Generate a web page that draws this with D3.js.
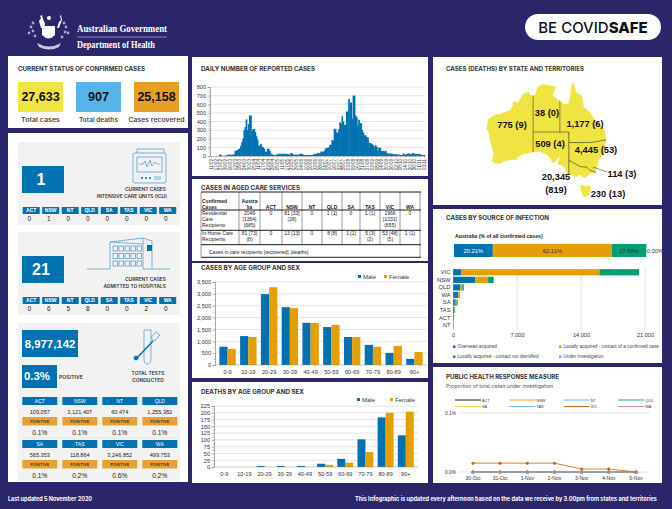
<!DOCTYPE html>
<html>
<head>
<meta charset="utf-8">
<script src="https://cdnjs.cloudflare.com/ajax/libs/d3/7.8.5/d3.min.js"></script>
<style>
html, body { margin: 0; padding: 0; background: #2a2669; }
svg { display: block; }
.axis text { font-family: "Liberation Sans", Arial, sans-serif; fill: #333; }
</style>
</head>
<body>
<div id="chart"></div>
<script>
// top counters
const statusLabels = ['Total cases', 'Total deaths', 'Cases recovered'];
const statusValues = ['27,633', '907', '25,158'];

// state lists
const states = ['ACT', 'NSW', 'NT', 'QLD', 'SA', 'TAS', 'VIC', 'WA'];
const icuValues = [0, 1, 0, 0, 0, 0, 0, 0];
const hospitalValues = [0, 6, 5, 8, 0, 0, 2, 0];
const testValues = ['109,057', '3,121,407', '60,474', '1,255,382', '565,353', '118,864', '3,246,852', '499,753'];
const testPositive = ['0.1%', '0.1%', '0.1%', '0.1%', '0.1%', '0.2%', '0.6%', '0.2%'];

// daily reported cases
const dailyCases = [0,0,0,0,0,0,0,0,15,15,2,2,2,2,10,12,15,15,15,15,15,18,60,60,70,80,85,120,160,200,300,335,425,300,370,470,470,
  290,310,315,280,230,190,120,120,140,110,100,85,50,50,85,85,60,30,20,15,10,10,20,15,25,25,25,25,25,25,25,20,25,20,15,35,30,15,15,15,
  15,15,15,25,25,25,15,12,12,12,12,12,12,12,12,15,25,25,25,35,30,30,50,50,50,60,85,95,90,100,130,130,185,175,315,315,270,270,310,390,375,
  460,400,360,360,515,515,660,620,620,430,700,700,470,450,350,420,380,380,300,270,240,240,220,215,155,150,145,135,120,100,125,105,60,95,95,
  60,55,60,50,60,35,30,28,28,25,25,20,20,20,18,15,15,12,12,12,30,18,15,25,25,30,20,20,35,30,25,25,25,20,25,18,15,12,12,10];
const dailyTickLabels = ['11/02','17/02','23/02','29/02','06/03','12/03','18/03','24/03','30/03','05/04','11/04','17/04','23/04','29/04','05/05','11/05','17/05','23/05','29/05','04/06','10/06','16/06','22/06','28/06','04/07','10/07','16/07','22/07','28/07','03/08','09/08','15/08','21/08','27/08','02/09','08/09','14/09','20/09','26/09','02/10','08/10','14/10','20/10','26/10','01/11','03/11'];

// aged care table
const agedHead = ['Confirmed\nCases', 'Austra\nlia', 'ACT', 'NSW', 'NT', 'QLD', 'SA', 'TAS', 'VIC', 'WA'];
const agedResidential = ['Residential\nCare\nRecipients', '2049\n[1364]\n(685)', '0', '81 [33]\n(28)', '0', '1 (1)', '0', '1 (1)', '1966\n[1331]\n(655)', '0'];
const agedHome = ['In Home Care\nRecipients', '81 [73]\n(8)', '0', '13 [13]', '0', '8 [8]', '1 [1]', '5 [3]\n(2)', '53 [48]\n(5)', '1 (1)'];

// age groups
const ageGroups = ['0-9', '10-19', '20-29', '30-39', '40-49', '50-59', '60-69', '70-79', '80-89', '90+'];
const casesMale = [770, 1220, 2990, 2440, 1780, 1600, 1180, 850, 510, 260];
const casesFemale = [680, 1180, 3280, 2400, 1770, 1690, 1180, 770, 800, 550];
const deathsMale = [0, 0, 4, 4, 4, 12, 30, 102, 183, 117];
const deathsFemale = [0, 0, 0, 0, 0, 8, 16, 55, 200, 204];

// source of infection
const sourceNames = ['Overseas acquired', 'Locally acquired - contact of a confirmed case', 'Locally acquired - contact not identified', 'Under investigation'];
const sourceShares = [20.21, 62.11, 17.68, 0.00];
const sourceStates = ['VIC', 'NSW', 'QLD', 'WA', 'SA', 'TAS', 'ACT', 'NT'];
const sourceOverseas = [912, 2440, 800, 580, 290, 170, 80, 32];
const sourceContact = [15100, 1400, 220, 190, 130, 40, 20, 4];
const sourceUnknown = [4333, 605, 157, 5, 89, 20, 14, 2];
const sourceInvestigation = [0, 0, 0, 0, 0, 0, 0, 0];

// under investigation lines
const phrmDays = ['30-Oct', '31-Oct', '1-Nov', '2-Nov', '3-Nov', '4-Nov', '5-Nov'];
const phrmStates = ['ACT', 'NSW', 'NT', 'QLD', 'SA', 'TAS', 'VIC', 'WA'];
const phrmColors = ['#000000', '#e69f00', '#56b4e9', '#009e73', '#f0e442', '#56b4e9', '#d55e00', '#cc79a7'];
const phrmFlat = [0, 0, 0, 0, 0, 0, 0];
const phrmVic = [0.015, 0.015, 0.015, 0.015, 0.005, 0.005, 0];

// map text and outlines in lon/lat
const mapLabels = ['775 (9)', '38 (0)', '1,177 (6)', '509 (4)', '4,445 (53)', '20,345', '(819)', '114 (3)', '230 (13)'];
const outlineWA = [[129,-14.9],[128.2,-15],[127.5,-14],[126.8,-14],[125.8,-14.4],[125,-15.5],[124.4,-16.3],[123.6,-17.3],[122.9,-16.5],[122.2,-17.2],[122.2,-18],[121.2,-19.5],[119.5,-20],[117.5,-20.7],[116.5,-20.7],[115,-21.5],[114.2,-22],[113.7,-23],[113.5,-25],[114.2,-26.5],[114.6,-28.5],[115,-30],[115.7,-31.8],[115.7,-33],[115.1,-34.2],[116.5,-35],[118,-35],[119.5,-34.2],[121.8,-33.9],[123.5,-33.9],[124,-33],[126,-32.3],[129,-31.7]];
const outlineSA = [[129,-26],[141,-26],[141,-38.05],[140.4,-37.8],[139.6,-36.2],[138.5,-35.4],[137.2,-35.2],[137.8,-33.8],[137.8,-32.6],[137,-33.8],[135.9,-34.9],[135.2,-34.2],[134,-32.6],[132.5,-32],[131,-31.5],[129,-31.7]];
const outlineNT = [[129,-14.9],[129.6,-14.9],[130.5,-12.5],[131,-12.1],[132.5,-11.4],[135,-12.1],[136.8,-12.2],[136,-13.5],[135.5,-15],[137,-16],[138,-16.6],[138,-26],[129,-26]];
const outlineQLD = [[138,-16.6],[139.3,-17.5],[140.8,-17.5],[141.6,-15],[141.7,-13],[142.5,-10.8],[143.5,-14],[145.3,-15],[146,-18.5],[148,-20],[149.5,-22],[151,-23.5],[153,-25.2],[153.5,-28.2],[150,-28.8],[148,-29],[141,-29],[141,-26],[138,-26]];
const outlineNSW = [[141,-29],[148,-29],[150,-28.8],[153.5,-28.2],[153.2,-30.5],[152.5,-32.5],[151,-34],[150,-37.5],[148,-36.8],[147,-36],[145,-35.9],[143,-35],[141,-34]];
const outlineVIC = [[141,-34],[143,-35],[145,-35.9],[147,-36],[148,-36.8],[150,-37.5],[148,-38],[146.4,-39.1],[145,-38.4],[144.6,-38],[143.5,-38.8],[141,-38.05]];
const outlineTAS = [[144.7,-40.7],[146.5,-41.1],[148.3,-40.9],[148.2,-42.2],[147.5,-43.3],[146,-43.6],[145.2,-42.2]];
const borderOlive = [[[129,-14.9],[129,-31.7]], [[129,-26],[141,-26]], [[138,-16.6],[138,-26]]];
const borderDark = [[[141,-26],[141,-38.05]], [[141,-29],[148,-29],[150,-28.8],[153.5,-28.2]], [[141,-34],[143,-35],[145,-35.9],[147,-36],[148,-36.8],[150,-37.5]]];

const BLUE = '#0072b2', ORANGE = '#e69f00', GREEN = '#009e73', SKY = '#56b4e9', YELLOW = '#f0e442';
const SANS = '"Liberation Sans", Arial, sans-serif';
const TITLE = 'Inter, "Open Sans", sans-serif';

const svg = d3.select('#chart').append('svg').attr('width', 672).attr('height', 509);
svg.append('rect').attr('width', 672).attr('height', 509).attr('fill', '#2a2669');

// small helpers
const text = (g, x, y, str, o = {}) => {
    const t = g.append('text').attr('x', x).attr('y', y).text(str)
        .attr('font-family', o.family || SANS)
        .attr('font-size', o.size || 6)
        .attr('font-weight', o.weight || 'normal')
        .attr('fill', o.fill || '#222')
        .attr('text-anchor', o.anchor || 'start');
    if (o.length) t.attr('textLength', o.length).attr('lengthAdjust', 'spacingAndGlyphs');
    return t;
};
const box = (g, x, y, w, h, fill) => g.append('rect').attr('x', x).attr('y', y).attr('width', w).attr('height', h).attr('fill', fill);
const title = (x, y, str, length) => text(svg, x, y, str, { family: TITLE, size: 6, weight: 700, fill: '#333', length });
const styleAxis = (g, size) => {
    g.selectAll('text').attr('font-size', size);
    g.selectAll('line').attr('stroke', '#8c8c8c').attr('stroke-width', 0.5);
    g.selectAll('path').attr('stroke', '#8c8c8c').attr('stroke-width', 0.5);
};

// panels
[[8, 56, 180, 72], [8, 133, 180, 349], [192, 57, 236, 119], [192, 179, 236, 82], [192, 263, 236, 115], [192, 382, 236, 101],
 [433, 57, 229, 148], [433, 209, 229, 154], [433, 367, 229, 116]].forEach(p => box(svg, p[0], p[1], p[2], p[3], '#fff'));

// header
const crest = svg.append('g').attr('fill', '#fff');
crest.append('path').attr('d', 'M42 26h13v9q-6.500 7-13 0z');
crest.append('path').attr('d', 'M41 28l-2-7 2-3-1-2 2-1 1 4 2 5-1 4z');
crest.append('path').attr('d', 'M57 28l2-6 2-2-1-4 1-1 1 5-2 5-1 3z');
crest.append('circle').attr('cx', 49).attr('cy', 18).attr('r', 2);
crest.append('path').attr('d', 'M37 43q12 7 24 0l-2 4q-10 5-20 0z').attr('opacity', 0.75);
[[31, 27], [29, 33], [33, 23], [66, 27], [68, 33], [64, 23], [35, 36], [62, 37], [33, 31], [65, 32]].forEach(d =>
    crest.append('circle').attr('cx', d[0]).attr('cy', d[1]).attr('r', 1.4).attr('opacity', 0.6));
text(svg, 77, 32, 'Australian Government', { family: '"Liberation Serif", serif', size: 10, weight: 700, fill: '#fff', length: 90 });
svg.append('line').attr('x1', 77).attr('x2', 167).attr('y1', 37).attr('y2', 37).attr('stroke', '#cfcfe6').attr('stroke-width', 0.6);
text(svg, 77, 48, 'Department of Health', { family: '"Liberation Serif", serif', size: 10, weight: 700, fill: '#fff', length: 78 });
svg.append('rect').attr('x', 525).attr('y', 14).attr('width', 136).attr('height', 26).attr('rx', 13).attr('fill', '#fff');
const pill = text(svg, 593, 32.5, 'BE COVID', { family: TITLE, size: 15, weight: 500, fill: '#111', anchor: 'middle' });
pill.append('tspan').attr('font-weight', 800).text('SAFE');
text(svg, 8, 501, 'Last updated 5 November 2020', { family: TITLE, size: 5.5, weight: 700, fill: '#fff', length: 84 });
text(svg, 355, 501, 'This Infographic is updated every afternoon based on the data we receive by 3.00pm from states and territories', { family: TITLE, size: 5.5, weight: 700, fill: '#fff', length: 302 });

// current status
title(18, 71, 'CURRENT STATUS OF CONFIRMED CASES', 127);
[YELLOW, SKY, '#e69f24'].forEach((c, i) => {
    const x = 18 + i * 58;
    box(svg, x, 82, 45, 30, c);
    text(svg, x + 22.5, 101, statusValues[i], { size: 12.5, weight: 700, fill: '#111', anchor: 'middle' });
    text(svg, x + 22.500, 122, statusLabels[i], { family: TITLE, size: 5.6, weight: 600, fill: '#444', anchor: 'middle', length: i === 2 ? 56 : 39 });
});

// icu + hospital blocks
const chipRow = (y, values) => {
    states.forEach((s, i) => {
        const x = 22.7 + i * 19.5;
        box(svg, x, y, 17, 7, BLUE);
        text(svg, x + 8.5, y + 5.3, s, { size: 5, weight: 700, fill: '#fff', anchor: 'middle' });
        text(svg, x + 6.5, y + 14, values[i], { size: 6.5, fill: '#222', anchor: 'middle' });
    });
};
box(svg, 18, 142, 162, 83, '#f2f2f2');
box(svg, 22, 166, 42, 27, BLUE);
text(svg, 41, 185, '1', { size: 16, weight: 700, fill: '#fff', anchor: 'middle' });
text(svg, 166, 191, 'CURRENT CASES', { family: TITLE, size: 4.9, weight: 600, fill: '#333', anchor: 'end' });
text(svg, 167, 198, 'INTENSIVE CARE UNITS (ICU)', { family: TITLE, size: 4.9, weight: 600, fill: '#333', anchor: 'end' });
chipRow(207, icuValues);

box(svg, 18, 232, 162, 83, '#f2f2f2');
box(svg, 22, 256, 42, 27, BLUE);
text(svg, 41, 275, '21', { size: 16, weight: 700, fill: '#fff', anchor: 'middle' });
text(svg, 166, 281, 'CURRENT CASES', { family: TITLE, size: 4.9, weight: 600, fill: '#333', anchor: 'end' });
text(svg, 166, 288, 'ADMITTED TO HOSPITALS', { family: TITLE, size: 4.9, weight: 600, fill: '#333', anchor: 'end' });
chipRow(297, hospitalValues);

// testing block
box(svg, 18, 323, 162, 158, '#f2f2f2');
box(svg, 22, 330, 56, 27, BLUE);
text(svg, 50, 347.5, '8,977,142', { size: 11.4, weight: 700, fill: '#fff', anchor: 'middle' });
box(svg, 22, 365, 35, 23, BLUE);
text(svg, 24, 380, '0.3%', { size: 11.4, weight: 700, fill: '#fff' });
text(svg, 59, 379, 'POSITIVE', { family: TITLE, size: 5.2, weight: 600, fill: '#333' });
text(svg, 148, 375, 'TOTAL TESTS', { family: TITLE, size: 4.9, weight: 600, fill: '#333', anchor: 'middle' });
text(svg, 148, 382, 'CONDUCTED', { family: TITLE, size: 4.9, weight: 600, fill: '#333', anchor: 'middle' });
states.forEach((s, i) => {
    const x = 22.3 + (i % 4) * 40;
    const y = i < 4 ? 397 : 440;
    box(svg, x, y, 35, 8, BLUE);
    text(svg, x + 17.5, y + 6, s, { size: 5, fill: '#fff', anchor: 'middle' });
    text(svg, x + 17.5, y + 16.5, testValues[i], { size: 5.6, fill: '#222', anchor: 'middle' });
    box(svg, x, y + 20, 35, 8.5, '#e9a033');
    text(svg, x + 17.5, y + 26.300, 'POSITIVE', { family: TITLE, size: 4.1, weight: 600, fill: '#333', anchor: 'middle' });
    text(svg, x + 17.5, y + 37.5, testPositive[i], { size: 6.6, fill: '#222', anchor: 'middle' });
});
svg.append('line').attr('x1', 22).attr('x2', 177).attr('y1', 438).attr('y2', 438).attr('stroke', '#dcdcdc').attr('stroke-width', 0.5);

// icons
const icon = svg.append('g').attr('fill', 'none').attr('stroke', '#5d9fd0').attr('stroke-width', 0.8);
icon.append('path').attr('d', 'M137 153v-4h27v4');
icon.append('rect').attr('x', 133).attr('y', 153).attr('width', 33).attr('height', 30).attr('rx', 2);
icon.append('rect').attr('x', 137).attr('y', 157).attr('width', 25).attr('height', 15);
icon.append('path').attr('d', 'M139 164h4l2-3 2 6 3-7 2 6 3-4 2 2h3');
[142, 146, 150].forEach(x => icon.append('circle').attr('cx', x).attr('cy', 178).attr('r', 1).attr('fill', '#0072b2').attr('stroke', 'none'));
icon.append('path').attr('d', 'M154 177h7M154 179h7');
icon.append('path').attr('d', 'M87 269h23v-27l33-4v31h27');
icon.append('path').attr('d', 'M143 238l9 3v28M110 242l33 2');
[0, 1, 2].forEach(r => d3.range(5).forEach(c =>
    icon.append('rect').attr('x', 113 + c * 6).attr('y', 246 + r * 7.5).attr('width', 4.5).attr('height', 5)));
box(svg, 147, 245, 5, 6, BLUE);
icon.append('path').attr('d', 'M144 330h7v28q0 6-3.500 6t-3.500-6z');
icon.append('path').attr('d', 'M136 359l17-18').attr('stroke', BLUE).attr('stroke-width', 1.4);
icon.append('circle').attr('cx', 136).attr('cy', 358).attr('r', 2).attr('fill', BLUE).attr('stroke', BLUE);
icon.append('rect').attr('x', 153).attr('y', 332).attr('width', 5).attr('height', 8).attr('transform', 'rotate(40 155 336)');

// grid plus left axis, used by every column chart
const yFrame = (y, ticks, minor, x0, x1, fmt) => {
    svg.append('g').selectAll('line').data(ticks.slice(1)).enter().append('line')
        .attr('x1', x0).attr('x2', x1).attr('y1', d => y(d)).attr('y2', d => y(d))
        .attr('stroke', '#d9d9d9').attr('stroke-width', 0.7);
    const minorAxis = svg.append('g').attr('transform', `translate(${x0},0)`)
        .call(d3.axisLeft(y).tickValues(minor).tickSize(1.5).tickFormat(''));
    styleAxis(minorAxis, 5);
    const a = svg.append('g').attr('class', 'axis').attr('transform', `translate(${x0},0)`)
        .call(d3.axisLeft(y).tickValues(ticks).tickSize(2.5).tickPadding(1.5).tickFormat(fmt));
    styleAxis(a, 5.6);
};

// daily cases
title(201, 71, 'DAILY NUMBER OF REPORTED CASES', 114);
const dailyX = d3.scaleBand().domain(d3.range(dailyCases.length)).range([210, 425]).padding(0);
const dailyY = d3.scaleLinear().domain([0, 800]).range([156, 87]);
yFrame(dailyY, d3.range(0, 801, 100), d3.range(0, 801, 25), 210, 425, d3.format('d'));
svg.append('g').selectAll('rect').data(dailyCases).enter().append('rect')
    .attr('x', (d, i) => dailyX(i)).attr('width', dailyX.bandwidth() + 0.6)
    .attr('y', d => dailyY(d)).attr('height', d => 156 - dailyY(d)).attr('fill', BLUE);
const dailyTicks = d3.scalePoint().domain(dailyTickLabels).range([211, 424]);
const dailyAxis = svg.append('g').attr('class', 'axis').attr('transform', 'translate(0,156)')
    .call(d3.axisBottom(dailyTicks).tickSize(1.5).tickPadding(1));
styleAxis(dailyAxis, 4.5);
dailyAxis.selectAll('text').attr('transform', 'rotate(-90)').attr('text-anchor', 'end').attr('x', -3).attr('y', 0).attr('dy', '0.32em');

// aged care table
title(201, 190, 'CASES IN AGED CARE SERVICES', 99);
const colEdges = [201, 239, 260, 282, 302, 322, 342, 360, 380, 400, 420];
const rowEdges = [192, 210, 230.3, 244.7, 257.3];
const tableRow = (cells, top, bottom, head) => {
    cells.forEach((c, i) => {
        const lines = c.split('\n');
        const lh = 5.8;
        const firstY = head ? bottom - 1.5 - (lines.length - 1) * lh : top + 5;
        lines.forEach((l, k) => {
            const opts = { size: 5, weight: head ? 700 : 'normal', fill: '#222' };
            if (i === 0) text(svg, colEdges[0] + 1, firstY + k * lh, l, opts);
            else text(svg, (colEdges[i] + colEdges[i + 1]) / 2, firstY + k * lh, l, { ...opts, anchor: 'middle' });
        });
    });
};
tableRow(agedHead, rowEdges[0], rowEdges[1], true);
tableRow(agedResidential, rowEdges[1], rowEdges[2], false);
tableRow(agedHome, rowEdges[2], rowEdges[3], false);
text(svg, 209, 254, 'Cases in care recipients [recovered] (deaths)', { size: 5, fill: '#222' });
rowEdges.forEach(y => svg.append('line').attr('x1', 201).attr('x2', 421).attr('y1', y).attr('y2', y).attr('stroke', '#000').attr('stroke-width', 0.9));
colEdges.forEach((x, i) => svg.append('line').attr('x1', x).attr('x2', x).attr('y1', rowEdges[0]).attr('y2', (i === 0 || i === 10) ? rowEdges[4] : rowEdges[3]).attr('stroke', '#000').attr('stroke-width', 0.4));

// male / female column charts
const ageChart = (male, female, yScale, ticks, minor, x0, x1, bandRange, base, legendY, legendX, fmt) => {
    yFrame(yScale, ticks, minor, x0, x1, fmt);
    const xBand = d3.scaleBand().domain(ageGroups).range(bandRange).padding(0.21);
    const sub = d3.scaleBand().domain(['m', 'f']).range([0, xBand.bandwidth()]);
    [['m', male, BLUE], ['f', female, ORANGE]].forEach(s => {
        svg.append('g').selectAll('rect').data(s[1]).enter().append('rect')
            .attr('x', (d, i) => xBand(ageGroups[i]) + sub(s[0])).attr('width', sub.bandwidth())
            .attr('y', d => yScale(d)).attr('height', d => base - yScale(d)).attr('fill', s[2]);
    });
    const a = svg.append('g').attr('class', 'axis').attr('transform', `translate(0,${base})`)
        .call(d3.axisBottom(xBand).tickSize(0).tickPadding(5));
    styleAxis(a, 5.6);
    a.select('path').attr('d', `M${x0},0H${x1}`);
    box(svg, legendX[0], legendY - 2.5, 3, 3, BLUE);
    text(svg, legendX[0] + 5, legendY + 1, 'Male', { size: 6, fill: '#333' });
    box(svg, legendX[1], legendY - 2.5, 3, 3, ORANGE);
    text(svg, legendX[1] + 5, legendY + 1, 'Female', { size: 6, fill: '#333' });
};
title(201, 270, 'CASES BY AGE GROUP AND SEX', 99);
ageChart(casesMale, casesFemale, d3.scaleLinear().domain([0, 3500]).range([365, 282]),
    d3.range(0, 3501, 500), d3.range(0, 3501, 250), 215, 427, [215, 427], 365, 277.5, [358, 384], d3.format(','));
title(201, 394, 'DEATHS BY AGE GROUP AND SEX', 103);
ageChart(deathsMale, deathsFemale, d3.scaleLinear().domain([0, 225]).range([467, 406]),
    d3.range(0, 226, 25), d3.range(0, 226, 12.5), 214, 418, [212, 418], 467, 400.5, [357, 390], d3.format('d'));

// map
title(446, 71, 'CASES (DEATHS) BY STATE AND TERRITORIES', 138);
const lonScale = d3.scaleLinear().domain([113.5, 153.5]).range([487, 606]);
const latScale = d3.scaleLinear().domain([-10.8, -26, -39.1, -43.6]).range([82, 132, 178, 197]);
const coastLine = d3.line().x(d => lonScale(d[0])).y(d => latScale(d[1])).curve(d3.curveLinearClosed);
const borderLine = d3.line().x(d => lonScale(d[0])).y(d => latScale(d[1]));
svg.append('g').selectAll('path').data([outlineWA, outlineSA, outlineNT, outlineQLD, outlineNSW, outlineVIC, outlineTAS]).enter().append('path')
    .attr('d', coastLine).attr('fill', YELLOW).attr('stroke', YELLOW).attr('stroke-width', 0.4);
svg.append('g').selectAll('path').data(borderOlive).enter().append('path')
    .attr('d', borderLine).attr('fill', 'none').attr('stroke', '#6d6b22').attr('stroke-width', 0.8);
svg.append('g').selectAll('path').data(borderDark).enter().append('path')
    .attr('d', borderLine).attr('fill', 'none').attr('stroke', '#2a2a10').attr('stroke-width', 0.6);
svg.append('line').attr('x1', 593).attr('y1', 167).attr('x2', 607).attr('y2', 172).attr('stroke', '#222').attr('stroke-width', 0.5);
[[512, 128], [547, 116], [585, 127], [550, 147], [596, 153], [556, 180], [556, 193], [622, 177], [608, 197]].forEach((p, i) =>
    text(svg, p[0], p[1], mapLabels[i], { size: 9.3, weight: 700, fill: '#111', anchor: 'middle' }));

// source of infection
title(446, 220, 'CASES BY SOURCE OF INFECTION', 103);
text(svg, 455, 238, 'Australia (% of all confirmed cases)', { size: 5.2, weight: 700, fill: '#222' });
const shareX = d3.scaleLinear().domain([0, 100]).range([454, 646]);
let shareAt = 0;
const sourceColors = [BLUE, ORANGE, GREEN, SKY];
sourceShares.forEach((v, i) => {
    box(svg, shareX(shareAt), 244, Math.max(shareX(shareAt + v) - shareX(shareAt), 0.5), 13, sourceColors[i]);
    const mid = shareX(shareAt + v / 2);
    text(svg, i === 3 ? 655 : mid, 252.5, v.toFixed(2) + '%', { size: 5.8, fill: i === 0 ? '#fff' : '#333', anchor: 'middle' });
    shareAt += v;
});
const srcX = d3.scaleLinear().domain([0, 21000]).range([453, 645]);
const srcY = d3.scaleBand().domain(sourceStates).range([268.5, 329]).paddingInner(0.18).paddingOuter(0.09);
[7000, 14000, 21000].forEach(v => svg.append('line').attr('x1', srcX(v)).attr('x2', srcX(v)).attr('y1', 268).attr('y2', 329).attr('stroke', '#d9d9d9').attr('stroke-width', 0.8));
const srcStack = d3.stack().keys(sourceNames)(sourceStates.map((s, i) => ({
    [sourceNames[0]]: sourceOverseas[i], [sourceNames[1]]: sourceContact[i],
    [sourceNames[2]]: sourceUnknown[i], [sourceNames[3]]: sourceInvestigation[i], state: s })));
srcStack.forEach((layer, k) => {
    svg.append('g').selectAll('rect').data(layer).enter().append('rect')
        .attr('x', d => srcX(d[0])).attr('width', d => srcX(d[1]) - srcX(d[0]))
        .attr('y', d => srcY(d.data.state)).attr('height', srcY.bandwidth()).attr('fill', sourceColors[k]);
});
const srcLeft = svg.append('g').attr('class', 'axis').attr('transform', 'translate(453,0)').call(d3.axisLeft(srcY).tickSize(0).tickPadding(2.500));
styleAxis(srcLeft, 5.8);
const srcBottom = svg.append('g').attr('class', 'axis').attr('transform', 'translate(0,329)')
    .call(d3.axisBottom(srcX).tickValues([0, 7000, 14000, 21000]).tickSize(0).tickPadding(4).tickFormat(d3.format(',')));
styleAxis(srcBottom, 5.6);
srcBottom.select('path').remove();
[[453, 347, 0], [559, 347, 1], [453, 357, 2], [559, 357, 3]].forEach(p => {
    box(svg, p[0], p[1] - 1.5, 2.5, 2.5, sourceColors[p[2]]);
    text(svg, p[0] + 4.5, p[1] + 1, sourceNames[p[2]], { size: 4.7, fill: '#444' });
});

// public health response
text(svg, 446, 379, 'PUBLIC HEALTH RESPONSE MEASURE', { family: TITLE, size: 6, weight: 700, fill: '#333', length: 113 });
text(svg, 446, 388, 'Proportion of total cases under investigation', { family: TITLE, size: 5, fill: '#555', length: 107 });
const phrmX = d3.scalePoint().domain(phrmDays).range([473, 636]);
const phrmY = d3.scaleLinear().domain([0, 0.1]).range([472, 413]);
[0, 0.1].forEach(v => {
    svg.append('line').attr('x1', 459).attr('x2', 650).attr('y1', phrmY(v)).attr('y2', phrmY(v)).attr('stroke', '#d9d9d9').attr('stroke-width', 0.8);
    text(svg, 456, phrmY(v) + 1.8, v.toFixed(1) + '%', { size: 4.8, fill: '#333', anchor: 'end' });
});
const phrmLine = d3.line().x((d, i) => phrmX(phrmDays[i])).y(d => phrmY(d));
phrmStates.forEach((s, i) => {
    const values = s === 'VIC' ? phrmVic : phrmFlat;
    svg.append('path').datum(values).attr('d', phrmLine).attr('fill', 'none').attr('stroke', phrmColors[i]).attr('stroke-width', 0.8);
    svg.append('g').selectAll('circle').data(values).enter().append('circle')
        .attr('cx', (d, k) => phrmX(phrmDays[k])).attr('cy', d => phrmY(d)).attr('r', 1.5).attr('fill', phrmColors[i]);
    const lx = 455 + (i % 4) * 54.4;
    const ly = i < 4 ? 400 : 406.5;
    svg.append('line').attr('x1', lx).attr('x2', lx + 26).attr('y1', ly).attr('y2', ly).attr('stroke', phrmColors[i]).attr('stroke-width', 0.9);
    text(svg, lx + 27, ly + 1.5, s, { size: 3.8, fill: '#333' });
});
phrmX.domain().forEach(d => text(svg, phrmX(d), 480, d, { size: 5, fill: '#333', anchor: 'middle' }));
</script>
</body>
</html>
